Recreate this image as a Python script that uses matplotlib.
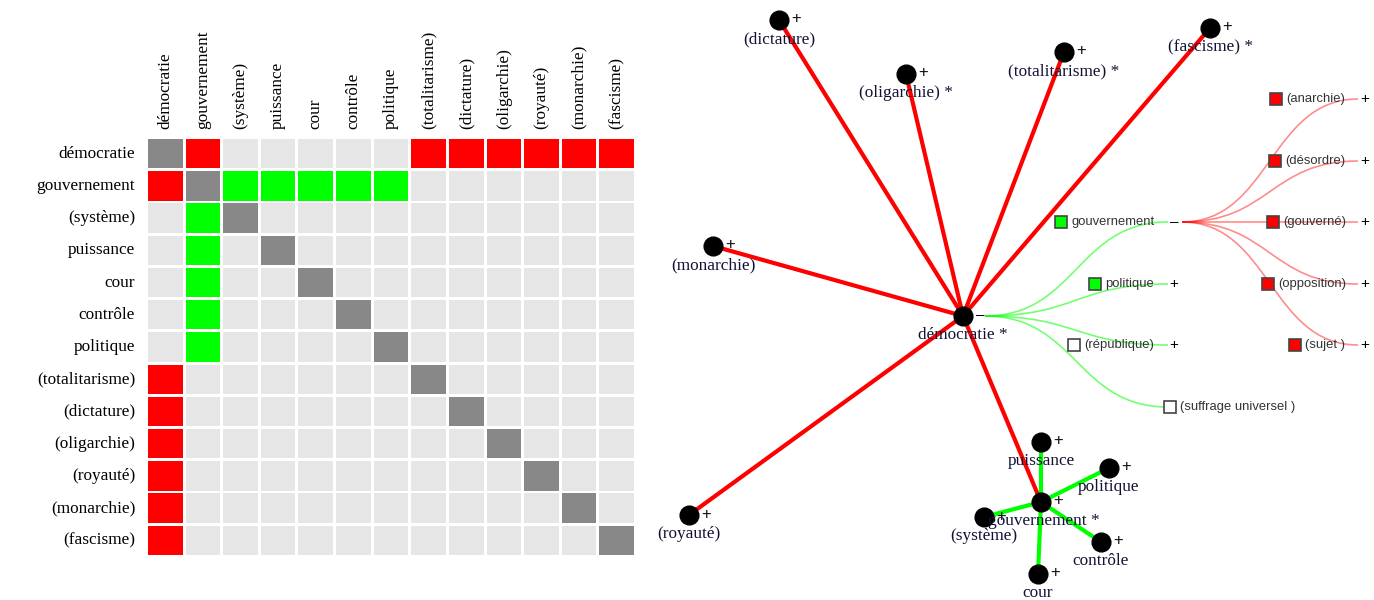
import matplotlib.pyplot as plt
from matplotlib.patches import Rectangle
from matplotlib.path import Path
from matplotlib.patches import PathPatch

# ---- data ----
terms = ['démocratie', 'gouvernement', '(système)', 'puissance', 'cour', 'contrôle',
         'politique', '(totalitarisme)', '(dictature)', '(oligarchie)', '(royauté)',
         '(monarchie)', '(fascisme)']

# green = positive link, red = negative link
pos_links = [('gouvernement', '(système)'), ('gouvernement', 'puissance'),
             ('gouvernement', 'cour'), ('gouvernement', 'contrôle'),
             ('gouvernement', 'politique')]
neg_links = [('démocratie', 'gouvernement'), ('démocratie', '(totalitarisme)'),
             ('démocratie', '(dictature)'), ('démocratie', '(oligarchie)'),
             ('démocratie', '(royauté)'), ('démocratie', '(monarchie)'),
             ('démocratie', '(fascisme)')]
starred = ['démocratie', '(oligarchie)', '(totalitarisme)', '(fascisme)', 'gouvernement']

# tree (right side)
tree_root = 'démocratie'
tree_level1 = ['gouvernement', 'politique', '(république)', '(suffrage universel )']
level1_kind = ['pos', 'pos', 'none', 'none']
level1_plus = [False, True, True, False]
tree_level2 = ['(anarchie)', '(désordre)', '(gouverné)', '(opposition)', '(sujet )']
level2_kind = ['neg', 'neg', 'neg', 'neg', 'neg']

# ---- layout (pixel coords of the graph area) ----
node_xy = {
    'démocratie': (963, 316), '(dictature)': (779, 20), '(oligarchie)': (906, 74),
    '(totalitarisme)': (1064, 52), '(fascisme)': (1210, 28), '(monarchie)': (713, 246),
    '(royauté)': (689, 515), 'gouvernement': (1041, 502), 'puissance': (1041, 442),
    'politique': (1109, 468), '(système)': (984, 517), 'contrôle': (1101, 542),
    'cour': (1038, 574),
}
label_dx = {'gouvernement': 3}
tree_src = (985, 316)
lvl1_x, lvl2_x = 1168, 1358
lvl1_y = [222, 284, 345, 407]
lvl2_y = [99, 161, 222, 284, 345]
lvl1_sq = [1061, 1095, 1074, 1170]
lvl2_sq = [1276, 1275, 1273, 1268, 1295]

RED, GREEN, GRAY, EMPTY = '#ff0000', '#00ff00', '#888888', '#e6e6e6'
SERIF = ['Liberation Serif', 'DejaVu Serif']
SANS = ['Liberation Sans', 'DejaVu Sans']
kind_color = {'pos': GREEN, 'neg': RED, 'none': 'white'}
FS = 12.4

W, H = 1374, 600
fig = plt.figure(figsize=(W / 100, H / 100), dpi=100)

# ---- matrix ----
n = len(terms)
idx = {t: i for i, t in enumerate(terms)}
rel = [[0] * n for _ in range(n)]
for a, b in pos_links:
    rel[idx[a]][idx[b]] = rel[idx[b]][idx[a]] = 1
for a, b in neg_links:
    rel[idx[a]][idx[b]] = rel[idx[b]][idx[a]] = -1

left, right, top, bottom = 146.5, 635.5, 137.5, 556.5
ax = fig.add_axes([left / W, 1 - bottom / H, (right - left) / W, (bottom - top) / H])
ax.set_xlim(0, n)
ax.set_ylim(n, 0)
ax.axis('off')
gx, gy = 0.08, 0.09
for i in range(n):
    for j in range(n):
        if i == j:
            c = GRAY
        elif rel[i][j] == 1:
            c = GREEN
        elif rel[i][j] == -1:
            c = RED
        else:
            c = EMPTY
        ax.add_patch(Rectangle((j + gx / 2, i + gy / 2), 1 - gx, 1 - gy, color=c, lw=0))
    ax.text(-0.3, i + 0.5, terms[i], ha='right', va='center', fontsize=FS, family=SERIF)
    ax.text(i + 0.5, -0.25, terms[i], ha='center', va='bottom', rotation=90,
            fontsize=FS, family=SERIF)

# ---- graph ----
gax = fig.add_axes([0, 0, 1, 1])
gax.set_xlim(0, W)
gax.set_ylim(H, 0)
gax.axis('off')

def curve(p0, p1, color, lw, alpha=1.0):
    mx = (p0[0] + p1[0]) / 2
    path = Path([p0, (mx, p0[1]), (mx, p1[1]), p1],
                [Path.MOVETO, Path.CURVE4, Path.CURVE4, Path.CURVE4])
    gax.add_patch(PathPatch(path, fc='none', ec=color, lw=lw, alpha=alpha, zorder=1))

# tree links
for y in lvl1_y:
    curve(tree_src, (lvl1_x, y), GREEN, 1.2, 0.55)
for y in lvl2_y:
    curve((1182, lvl1_y[0]), (lvl2_x, y), RED, 1.2, 0.45)

TFS = 9.4
gax.text(976, 315, '–', ha='left', va='center', fontsize=11, family=SANS, zorder=4)
for name, kind, y, sx, plus in zip(tree_level1, level1_kind, lvl1_y, lvl1_sq, level1_plus):
    gax.plot(sx, y, 's', ms=8.5, mfc=kind_color[kind], mec='#444444', mew=1.2, zorder=3)
    gax.text(sx + 10, y, name, ha='left', va='center', fontsize=TFS, family=SANS,
             color='#333333', zorder=4)
    if plus:
        gax.text(lvl1_x + 1, y, '+', ha='left', va='center', fontsize=11, family=SANS, zorder=4)
gax.text(lvl1_x + 2, lvl1_y[0], '–', ha='left', va='center', fontsize=11, family=SANS, zorder=4)
for name, kind, y, sx in zip(tree_level2, level2_kind, lvl2_y, lvl2_sq):
    gax.plot(sx, y, 's', ms=8.5, mfc=kind_color[kind], mec='#444444', mew=1.2, zorder=3)
    gax.text(sx + 10, y, name, ha='left', va='center', fontsize=TFS, family=SANS,
             color='#333333', zorder=4)
    gax.text(lvl2_x + 2, y, '+', ha='left', va='center', fontsize=11, family=SANS, zorder=4)

# force graph links
for a, b in neg_links:
    (x0, y0), (x1, y1) = node_xy[a], node_xy[b]
    gax.plot([x0, x1], [y0, y1], color=RED, lw=3, zorder=2, solid_capstyle='butt')
for a, b in pos_links:
    (x0, y0), (x1, y1) = node_xy[a], node_xy[b]
    gax.plot([x0, x1], [y0, y1], color=GREEN, lw=3, zorder=2, solid_capstyle='butt')

for name, (x, y) in node_xy.items():
    gax.plot(x, y, 'o', ms=13.5, color='black', zorder=3)
    label = name + (' *' if name in starred else '')
    gax.text(x + label_dx.get(name, 0), y + 19, label, ha='center', va='center',
             fontsize=FS, family=SERIF, color='#111133', zorder=4)
    if name != 'démocratie':
        gax.text(x + 12, y - 1, '+', ha='left', va='center', fontsize=12,
                 family=SANS, color='#111111', zorder=4)

fig.savefig('out.png', dpi=100, facecolor='white')
